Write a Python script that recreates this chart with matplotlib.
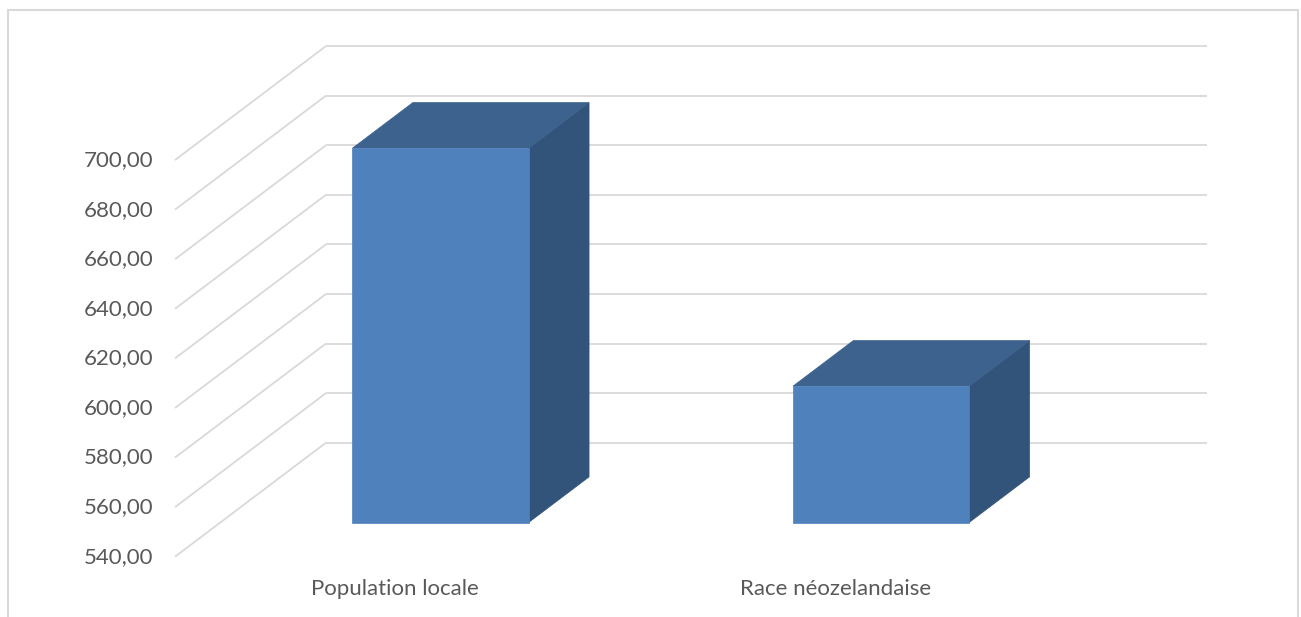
import matplotlib
matplotlib.use("Agg")
import matplotlib.pyplot as plt
from matplotlib.patches import Polygon, Rectangle

# ---- data ----
categories = ["Population locale", "Race néozelandaise"]
values = [691.0, 595.0]
y_ticks = [540, 560, 580, 600, 620, 640, 660, 680, 700]
tick_labels = ["540,00", "560,00", "580,00", "600,00", "620,00", "640,00", "660,00", "680,00", "700,00"]
y_base = 540

# ---- oblique 3D projection parameters (category units / value units) ----
DEPTH_DX = 0.3428   # x shift (category units) for full depth
DEPTH_DY = 46.0     # y shift (value units) for full depth
BAR_X0, BAR_X1 = 0.30, 0.70   # bar span within category
BAR_D0, BAR_D1 = 0.30, 0.70   # bar depth span

def proj(x, v, d):
    return (x + d * DEPTH_DX, v + d * DEPTH_DY)

FRONT = "#4F81BD"
TOP = "#3C628D"
SIDE = "#32537A"
GRID = "#D9D9D9"
TXT = "#595959"

W, H = 1301, 617
fig = plt.figure(figsize=(W / 100, H / 100), dpi=100)
ax = fig.add_axes([0, 0, 1, 1])
ax.set_xlim(-0.3973, 2.5562)
ax.set_ylim(515.68, 764.57)
ax.axis("off")

ncat = len(categories)
# back wall gridlines and left wall lines
for v in y_ticks:
    xb0, yb0 = proj(0, v, 1)
    xb1, yb1 = proj(ncat, v, 1)
    ax.plot([xb0, xb1], [yb0, yb1], color=GRID, lw=1.3, solid_capstyle="butt", zorder=1)
    xf, yf = proj(0, v, 0)
    ax.plot([xf, xb0], [yf, yb0], color=GRID, lw=1.3, solid_capstyle="butt", zorder=1)

# bars
for i, val in enumerate(values):
    xa, xb = i + BAR_X0, i + BAR_X1
    front = [proj(xa, y_base, BAR_D0), proj(xb, y_base, BAR_D0),
             proj(xb, val, BAR_D0), proj(xa, val, BAR_D0)]
    top = [proj(xa, val, BAR_D0), proj(xb, val, BAR_D0),
           proj(xb, val, BAR_D1), proj(xa, val, BAR_D1)]
    side = [proj(xb, y_base, BAR_D0), proj(xb, y_base, BAR_D1),
            proj(xb, val, BAR_D1), proj(xb, val, BAR_D0)]
    for pts, c in ((side, SIDE), (top, TOP), (front, FRONT)):
        ax.add_patch(Polygon(pts, closed=True, facecolor=c, edgecolor=c, lw=0.5, zorder=3))

# tick labels
font = "Lato"
for v, lab in zip(y_ticks, tick_labels):
    ax.annotate(lab, xy=proj(0, v, 0), xytext=(-22, 0), textcoords="offset pixels",
                ha="right", va="center", fontsize=16, color=TXT, family=font)

# category labels
for i, cat in enumerate(categories):
    ax.annotate(cat, xy=proj(i + 0.5, y_base, 0), xytext=(0, -32), textcoords="offset pixels",
                ha="center", va="center", fontsize=16, color=TXT, family=font)

# chart area border
fig.patches.append(Rectangle((8 / W, -0.05), 1290 / W, 1 - 10 / H + 0.05,
                             transform=fig.transFigure, fill=False,
                             edgecolor=GRID, lw=1.5, zorder=0))

fig.savefig("out.png", dpi=100, facecolor="white")
